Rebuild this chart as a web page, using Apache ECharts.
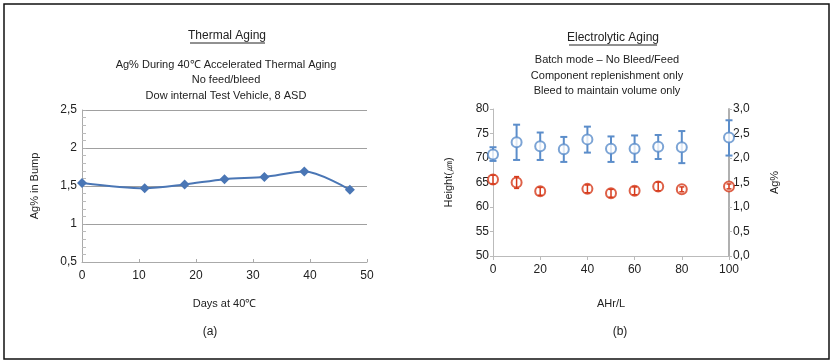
<!DOCTYPE html>
<html><head><meta charset="utf-8">
<script src="https://cdn.jsdelivr.net/npm/echarts@6/dist/echarts.min.js"></script>
<style>html,body{margin:0;padding:0;background:#fff}#c{width:833px;height:362px}</style>
</head><body><div id="c"></div>
<script>
// Left chart: Thermal aging
var thermalDays = [0, 11, 18, 25, 32, 39, 47];
var thermalAg = [1.54, 1.47, 1.52, 1.59, 1.62, 1.69, 1.45];

// Right chart: Electrolytic aging
var heightX = [0, 10, 20, 30, 40, 50, 60, 70, 80, 100];
var heightVal = [70.7, 73.2, 72.4, 71.8, 73.8, 71.9, 71.9, 72.3, 72.2, 74.2];
var heightHigh = [72.2, 76.8, 75.2, 74.3, 76.4, 74.4, 74.6, 74.7, 75.5, 77.7];
var heightLow = [69.4, 69.6, 69.6, 69.2, 71.1, 69.2, 69.2, 69.8, 68.95, 70.5];

var agX = [0, 10, 20, 40, 50, 60, 70, 80, 100];
var agVal = [1.56, 1.50, 1.32, 1.37, 1.28, 1.33, 1.42, 1.36, 1.42];
var agErr = [0.09, 0.12, 0.08, 0.08, 0.08, 0.08, 0.09, 0.05, 0.05];

var FONT = '"Liberation Sans", Arial, sans-serif';
var TXT = '#222';
var BLUE = '#5b8dca';
var RED = '#d6391a';

function comma(v, d) { return (d != null ? v.toFixed(d) : String(v)).replace('.', ','); }

var chart = echarts.init(document.getElementById('c'));

function errSeries(xs, highs, lows, yAxisIndex, color, capW, lw, z) {
  return {
    type: 'custom', xAxisIndex: 1, yAxisIndex: yAxisIndex, z: z,
    data: xs.map(function (x, i) { return [x, lows[i], highs[i]]; }),
    renderItem: function (params, api) {
      var lo = api.coord([api.value(0), api.value(1)]);
      var hi = api.coord([api.value(0), api.value(2)]);
      var ch = [{ type: 'line', shape: { x1: lo[0], y1: lo[1], x2: hi[0], y2: hi[1] }, style: { stroke: color, lineWidth: lw } }];
      if (capW > 0) {
        ch.push({ type: 'line', shape: { x1: hi[0] - capW, y1: hi[1], x2: hi[0] + capW, y2: hi[1] }, style: { stroke: color, lineWidth: lw } });
        ch.push({ type: 'line', shape: { x1: lo[0] - capW, y1: lo[1], x2: lo[0] + capW, y2: lo[1] }, style: { stroke: color, lineWidth: lw } });
      }
      return { type: 'group', children: ch };
    }
  };
}

function txt(x, y, s, size) {
  return { type: 'text', x: x, y: y, style: { text: s, font: (size || 11) + 'px ' + FONT, fill: TXT, textAlign: 'center', textVerticalAlign: 'middle' } };
}

var option = {
  animation: false,
  textStyle: { fontFamily: FONT },
  grid: [
    { left: 82, right: 466, top: 110, bottom: 100 },
    { left: 493, right: 104, top: 109, bottom: 106 }
  ],
  xAxis: [
    {
      gridIndex: 0, type: 'value', min: 0, max: 50, interval: 10,
      name: 'Days at 40℃', nameLocation: 'middle', nameGap: 36,
      nameTextStyle: { color: TXT, fontSize: 11, fontFamily: FONT },
      axisLine: { lineStyle: { color: '#aaa', width: 1 } },
      axisTick: { show: true, inside: true, length: 3, lineStyle: { color: '#aaa' } },
      axisLabel: { color: TXT, fontSize: 12, fontFamily: FONT, margin: 8 },
      splitLine: { show: false }
    },
    {
      gridIndex: 1, type: 'value', min: 0, max: 100, interval: 20,
      name: 'AHr/L', nameLocation: 'middle', nameGap: 42,
      nameTextStyle: { color: TXT, fontSize: 11, fontFamily: FONT },
      axisLine: { lineStyle: { color: '#bbb', width: 1 } },
      axisTick: { show: true, length: 4, lineStyle: { color: '#bbb' } },
      axisLabel: { color: TXT, fontSize: 12, fontFamily: FONT, margin: 8 },
      splitLine: { show: false }
    }
  ],
  yAxis: [
    {
      gridIndex: 0, type: 'value', min: 0.5, max: 2.5, interval: 0.5,
      name: 'Ag% in Bump', nameLocation: 'middle', nameGap: 42, nameRotate: 90,
      nameTextStyle: { color: TXT, fontSize: 11, fontFamily: FONT },
      axisLine: { show: true, lineStyle: { color: '#aaa', width: 1 } },
      axisTick: { show: true, inside: true, length: 4, lineStyle: { color: '#aaa' } },
      minorTick: { show: true, splitNumber: 5, length: 4, lineStyle: { color: '#bbb' } },
      axisLabel: { color: TXT, fontSize: 12, fontFamily: FONT, margin: 5, formatter: function (v) { return comma(v); } },
      splitLine: { show: true, lineStyle: { color: '#a0a0a0', width: 1 } }
    },
    {
      gridIndex: 1, type: 'value', min: 50, max: 80, interval: 5, position: 'left',
      name: 'Height(㎛)', nameLocation: 'middle', nameGap: 39, nameRotate: 90,
      nameTextStyle: { color: TXT, fontSize: 11, fontFamily: FONT },
      axisLine: { show: true, lineStyle: { color: '#bbb', width: 1 } },
      axisTick: { show: true, length: 3, lineStyle: { color: '#bbb' } },
      axisLabel: { color: TXT, fontSize: 12, fontFamily: FONT, margin: 4 },
      splitLine: { show: false }
    },
    {
      gridIndex: 1, type: 'value', min: 0, max: 3, interval: 0.5, position: 'right',
      name: 'Ag%', nameLocation: 'middle', nameGap: 40, nameRotate: 90,
      nameTextStyle: { color: TXT, fontSize: 11, fontFamily: FONT },
      axisLine: { show: true, lineStyle: { color: '#b0b0b0', width: 2 } },
      axisTick: { show: true, length: 3, lineStyle: { color: '#bbb' } },
      axisLabel: { color: TXT, fontSize: 12, fontFamily: FONT, margin: 4, formatter: function (v) { return comma(v, 1); } },
      splitLine: { show: false }
    }
  ],
  series: [
    {
      type: 'line', xAxisIndex: 0, yAxisIndex: 0, smooth: 0.3,
      data: thermalDays.map(function (d, i) { return [d, thermalAg[i]]; }),
      symbol: 'diamond', symbolSize: 10,
      lineStyle: { color: '#4a76b5', width: 2 },
      itemStyle: { color: '#4a76b5' }
    },
    errSeries(heightX, heightHigh, heightLow, 1, BLUE, 3.5, 2, 3),
    {
      type: 'scatter', xAxisIndex: 1, yAxisIndex: 1, z: 4,
      data: heightX.map(function (x, i) { return [x, heightVal[i]]; }),
      symbol: 'emptyCircle', symbolSize: 10,
      itemStyle: { color: BLUE, borderColor: BLUE, borderWidth: 2 }
    },
    {
      type: 'scatter', xAxisIndex: 1, yAxisIndex: 2, z: 4,
      data: agX.map(function (x, i) { return [x, agVal[i]]; }),
      symbol: 'emptyCircle', symbolSize: 10,
      itemStyle: { color: RED, borderColor: RED, borderWidth: 2 }
    },
    errSeries(agX, agVal.map(function (v, i) { return v + agErr[i]; }), agVal.map(function (v, i) { return v - agErr[i]; }), 2, RED, 2.5, 1.5, 5)
  ],
  graphic: [
    { type: 'rect', shape: { x: 4, y: 4, width: 825, height: 355 }, style: { fill: 'none', stroke: '#111', lineWidth: 1.5 }, silent: true },
    txt(227, 36, 'Thermal Aging', 12),
    { type: 'line', shape: { x1: 190, y1: 43, x2: 265, y2: 43 }, style: { stroke: '#222', lineWidth: 1 } },
    txt(226, 65, 'Ag% During 40℃ Accelerated Thermal Aging'),
    txt(226, 80, 'No feed/bleed'),
    txt(226, 96, 'Dow internal Test Vehicle, 8 ASD'),
    txt(210, 332, '(a)', 12),
    txt(613, 38, 'Electrolytic Aging', 12),
    { type: 'line', shape: { x1: 569, y1: 45, x2: 657, y2: 45 }, style: { stroke: '#222', lineWidth: 1 } },
    txt(607, 60, 'Batch mode – No Bleed/Feed'),
    txt(607, 76, 'Component replenishment only'),
    txt(607, 91, 'Bleed to maintain volume only'),
    txt(620, 332, '(b)', 12)
  ]
};
chart.setOption(option);
</script></body></html>
